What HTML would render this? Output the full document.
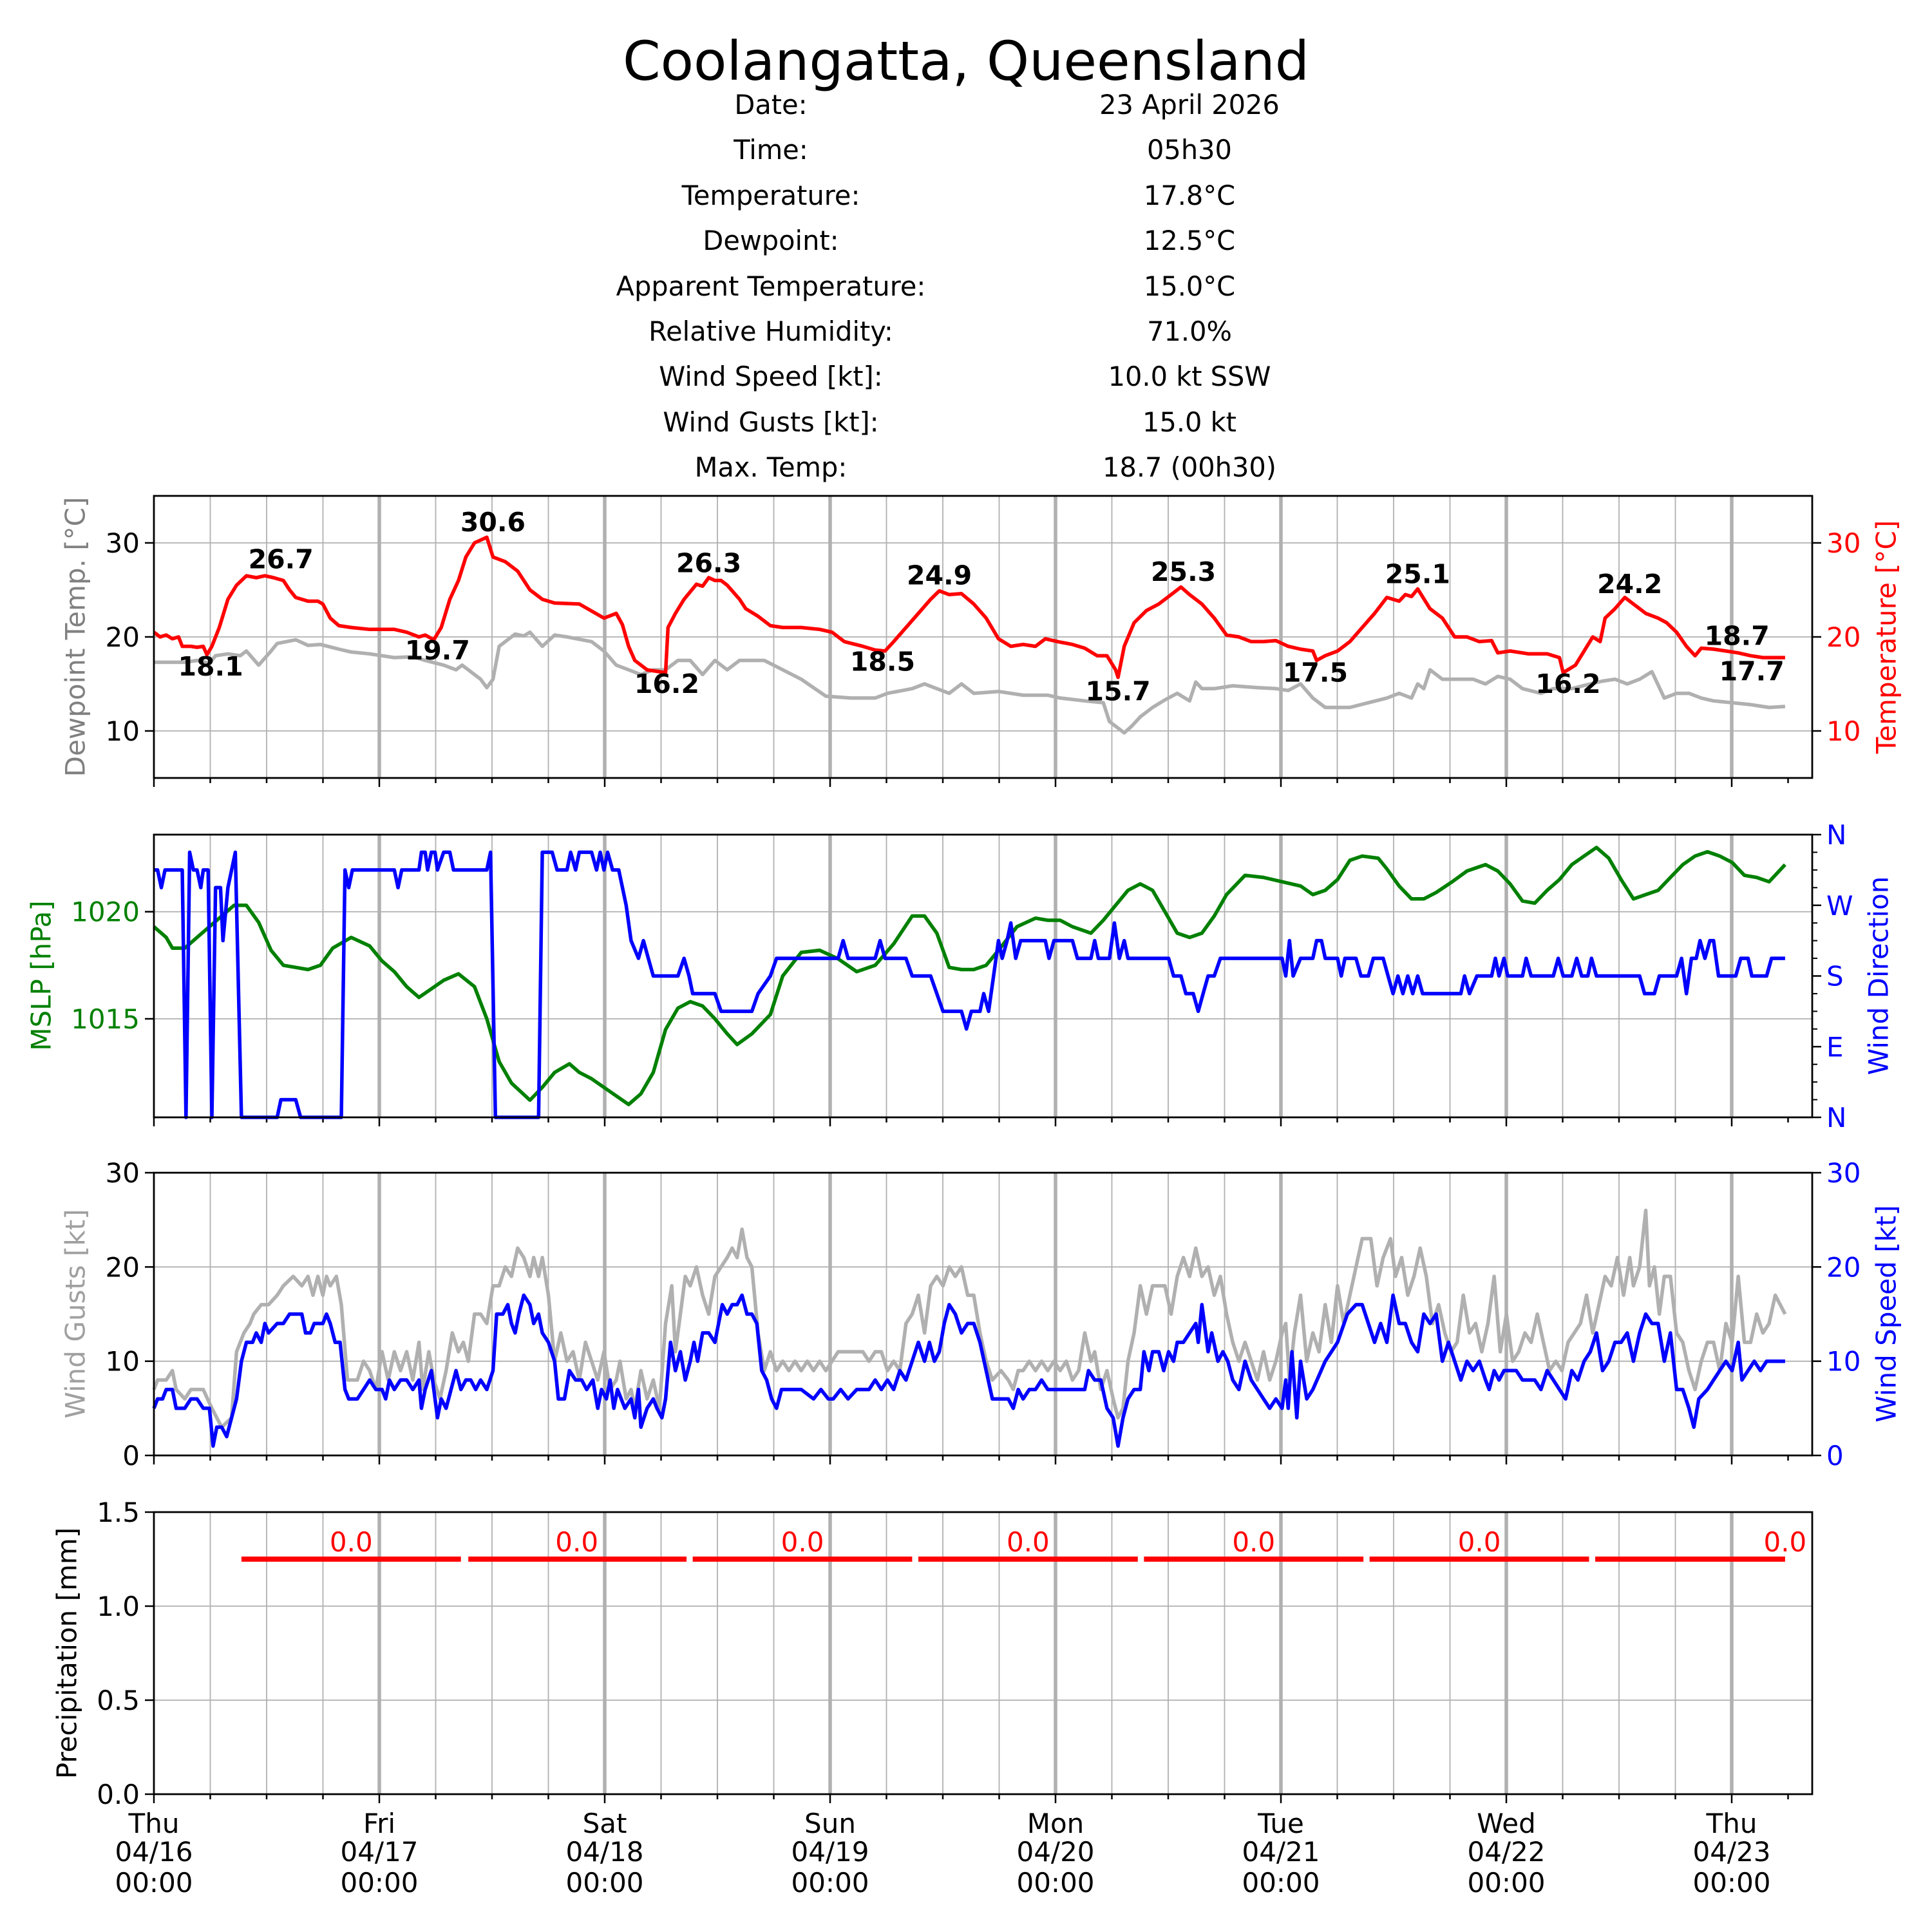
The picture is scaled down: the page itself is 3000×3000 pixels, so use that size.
<!DOCTYPE html>
<html><head><meta charset="utf-8"><style>
html,body{margin:0;padding:0;background:#fff}
svg{display:block}
text{font-family:"DejaVu Sans","Liberation Sans",sans-serif}
</style></head><body>
<svg id="s" width="3000" height="3000" viewBox="0 0 3000 3000" xmlns="http://www.w3.org/2000/svg">
<rect width="3000" height="3000" fill="#fff"/>
<text x="1500" y="124" font-size="84" text-anchor="middle">Coolangatta, Queensland</text>
<g font-size="41.5" text-anchor="middle">
<text x="1197" y="177">Date:</text><text x="1847" y="177">23 April 2026</text>
<text x="1197" y="247">Time:</text><text x="1847" y="247">05h30</text>
<text x="1197" y="318">Temperature:</text><text x="1847" y="318">17.8°C</text>
<text x="1197" y="388">Dewpoint:</text><text x="1847" y="388">12.5°C</text>
<text x="1197" y="459">Apparent Temperature:</text><text x="1847" y="459">15.0°C</text>
<text x="1197" y="529">Relative Humidity:</text><text x="1847" y="529">71.0%</text>
<text x="1197" y="599">Wind Speed [kt]:</text><text x="1847" y="599">10.0 kt SSW</text>
<text x="1197" y="670">Wind Gusts [kt]:</text><text x="1847" y="670">15.0 kt</text>
<text x="1197" y="740">Max. Temp:</text><text x="1847" y="740">18.7 (00h30)</text>
</g>
<g id="g"></g>
</svg>
<script>
var NS="http://www.w3.org/2000/svg",G=document.getElementById('g');
function el(t,a,txt){var e=document.createElementNS(NS,t);for(var k in a)e.setAttribute(k,a[k]);if(txt!==undefined)e.textContent=txt;G.appendChild(e);return e;}
var L=239,R=2814,DAY=350,FS=42,LW=5.5;
function X(dx){return L+(dx-125)*(R-L)/1345;}
var P=[{t:770,b:1208},{t:1296,b:1735},{t:1821,b:2260},{t:2348,b:2786}];
function yl(p,lo,hi,v){return P[p].b-(v-lo)/(hi-lo)*(P[p].b-P[p].t);}
function line(arr,fy,col,w){var s="";for(var i=0;i<arr.length;i+=2){s+=(i?"L":"M")+X(arr[i]).toFixed(1)+" "+fy(arr[i+1]).toFixed(1);}el('path',{d:s,fill:'none',stroke:col,'stroke-width':w,'stroke-linejoin':'round'});}
var ranges=[[5,35,[10,20,30]],[1010.4,1023.6,[1015,1020]],[0,30,[0,10,20,30]],[0,1.5,[0,0.5,1,1.5]]];
for(var p=0;p<4;p++){
  var t=P[p].t,b=P[p].b;
  for(var h=6;h<24*7+6;h+=6){var x=L+h*DAY/24;if(x>=R)break;var maj=h%24==0;
    el('line',{x1:x,x2:x,y1:t,y2:b,stroke:'#b0b0b0','stroke-width':maj?5.5:1.8});}
  var r=ranges[p];
  r[2].forEach(function(v){var y=yl(p,r[0],r[1],v);el('line',{x1:L,x2:R,y1:y,y2:y,stroke:'#b0b0b0','stroke-width':1.8});});
  for(var h=0;h<=24*7+6;h+=6){var x=L+h*DAY/24;if(x>R)break;var maj=h%24==0;el('line',{x1:x,x2:x,y1:b,y2:b+(maj?14:8),stroke:'#000','stroke-width':2.5});}
}
var T=[125,20.5,130,20,135,20.2,140,19.8,145,20,148,19,155,19,160,18.9,165,19,168,18.1,172,19,178,21,185,24,192,25.5,200,26.5,208,26.3,215,26.5,222,26.3,230,26,235,25,240,24.2,250,23.8,258,23.8,262,23.5,268,22,275,21.2,285,21,300,20.8,320,20.8,330,20.5,340,20,345,20.2,352,19.7,358,21,365,24,372,26,378,28.5,385,30,395,30.6,400,28.5,410,28,420,27,430,25,440,24,450,23.6,470,23.5,490,22,500,22.5,505,21.3,510,19,515,17.5,525,16.5,540,16.2,542,21,548,22.5,555,24,565,25.6,570,25.4,575,26.3,580,26,585,26,590,25.5,600,24,605,23,615,22.2,625,21.2,635,21,650,21,665,20.8,675,20.5,685,19.5,700,19,710,18.6,718,18.5,725,19.5,735,21,745,22.5,755,24,762,24.9,770,24.5,780,24.6,790,23.5,800,22,810,19.8,820,19,830,19.2,840,19,848,19.8,858,19.5,870,19.2,880,18.8,890,18,898,18,905,16.5,907,15.7,912,19,920,21.5,930,22.8,940,23.5,950,24.5,958,25.3,965,24.5,975,23.5,985,22,995,20.2,1005,20,1015,19.5,1025,19.5,1035,19.6,1045,19,1055,18.7,1065,18.5,1068,17.5,1075,18,1085,18.5,1095,19.5,1105,21,1115,22.5,1125,24.2,1135,23.8,1140,24.5,1145,24.3,1150,25.1,1160,23,1170,22,1180,20,1190,20,1200,19.5,1210,19.6,1215,18.3,1225,18.5,1240,18.2,1255,18.2,1265,17.8,1268,16.2,1278,17,1285,18.5,1292,20,1298,19.5,1302,22,1310,23,1318,24.2,1325,23.5,1330,23,1335,22.5,1345,22,1352,21.5,1360,20.5,1368,19,1375,18,1380,18.8,1390,18.7,1400,18.5,1410,18.3,1420,18,1430,17.8,1448,17.8];
var D=[125,17.3,150,17.3,160,17.5,170,17.2,175,18,185,18.2,195,18,200,18.5,210,17,220,18.5,225,19.3,240,19.7,250,19.1,260,19.2,275,18.7,285,18.4,300,18.2,320,17.8,335,17.9,345,17.5,360,17,370,16.5,375,17,385,16,390,15.5,395,14.6,400,15.5,405,19,410,19.5,418,20.3,425,20.1,430,20.5,440,19,450,20.2,460,20,480,19.5,490,18.5,500,17,510,16.5,520,16,530,16.5,540,16.5,550,17.5,560,17.5,570,16,580,17.5,590,16.5,600,17.5,620,17.5,635,16.5,650,15.5,670,13.7,690,13.5,710,13.5,720,14,740,14.5,750,15,760,14.5,770,14,780,15,790,14,810,14.2,830,13.8,850,13.8,860,13.5,880,13.2,895,13,900,11,905,10.5,912,9.8,918,10.5,925,11.5,935,12.5,945,13.3,955,14,965,13.2,970,15.2,975,14.5,985,14.5,1000,14.8,1020,14.6,1035,14.5,1045,14.3,1055,15,1065,13.5,1075,12.5,1095,12.5,1110,13,1125,13.5,1135,14,1145,13.5,1150,15,1155,14.5,1160,16.5,1170,15.5,1185,15.5,1195,15.5,1205,15,1215,15.8,1225,15.5,1235,14.5,1250,14,1260,14.5,1275,14.5,1290,15,1300,15.3,1310,15.5,1320,15,1330,15.5,1340,16.3,1350,13.5,1360,14,1370,14,1380,13.5,1390,13.2,1405,13,1420,12.8,1435,12.5,1448,12.6];
var f1=function(v){return yl(0,5,35,v);};
line(D,f1,'#b0b0b0',LW);line(T,f1,'#ff0000',LW);
var ann=[["26.7",228,454],["30.6",400,424],["26.3",575,457],["24.9",762,467],["25.3",960,464],["25.1",1150,466],["24.2",1322,474],["18.7",1409,516],["18.1",171,541],["19.7",355,528],["16.2",541,555],["18.5",716,537],["15.7",907,561],["17.5",1067,546],["16.2",1272,555],["17.7",1421,545]];
ann.forEach(function(a){el('text',{x:X(a[1]),y:a[2]*1.9133+14,'font-size':41,'font-weight':'bold','text-anchor':'middle'},a[0]);});
var M=[125,1019.3,135,1018.8,140,1018.3,150,1018.3,160,1018.8,170,1019.3,180,1019.8,190,1020.3,200,1020.3,210,1019.5,220,1018.2,230,1017.5,240,1017.4,250,1017.3,260,1017.5,270,1018.3,285,1018.8,300,1018.4,310,1017.7,320,1017.2,330,1016.5,340,1016,350,1016.4,360,1016.8,372,1017.1,385,1016.5,395,1015,405,1013,415,1012,430,1011.2,440,1011.8,450,1012.5,462,1012.9,470,1012.5,480,1012.2,495,1011.6,510,1011,520,1011.5,530,1012.5,540,1014.5,550,1015.5,560,1015.8,570,1015.6,580,1015,590,1014.3,598,1013.8,610,1014.3,625,1015.2,635,1017,650,1018.1,665,1018.2,680,1017.8,695,1017.2,710,1017.5,725,1018.5,740,1019.8,750,1019.8,760,1019,770,1017.4,780,1017.3,790,1017.3,800,1017.5,810,1018.2,825,1019.3,840,1019.7,850,1019.6,860,1019.6,870,1019.3,885,1019,895,1019.6,905,1020.3,915,1021,925,1021.3,935,1021,945,1020,955,1019,965,1018.8,975,1019,985,1019.8,995,1020.8,1010,1021.7,1025,1021.6,1040,1021.4,1055,1021.2,1065,1020.8,1075,1021,1085,1021.5,1095,1022.4,1105,1022.6,1118,1022.5,1125,1022,1135,1021.2,1145,1020.6,1155,1020.6,1165,1020.9,1178,1021.4,1190,1021.9,1205,1022.2,1215,1021.9,1225,1021.3,1235,1020.5,1245,1020.4,1255,1021,1265,1021.5,1275,1022.2,1285,1022.6,1295,1023,1305,1022.5,1315,1021.5,1325,1020.6,1335,1020.8,1345,1021,1355,1021.6,1365,1022.2,1375,1022.6,1385,1022.8,1395,1022.6,1405,1022.3,1415,1021.7,1425,1021.6,1435,1021.4,1448,1022.2];
var W=[125,315,128,315,131,292.5,134,315,148,315,151,0,154,337.5,157,315,160,315,163,292.5,165,315,169,315,172,0,175,292.5,179,292.5,181,225,185,292.5,191,337.5,196,0,225,0,228,22.5,240,22.5,244,0,277,0,280,315,283,292.5,286,315,320,315,323,292.5,326,315,340,315,342,337.5,345,337.5,347,315,350,337.5,353,337.5,355,315,360,337.5,365,337.5,368,315,395,315,398,337.5,402,0,437,0,440,337.5,448,337.5,452,315,460,315,463,337.5,467,315,470,337.5,480,337.5,484,315,487,337.5,490,315,493,337.5,497,315,502,315,508,270,512,225,518,202.5,522,225,526,202.5,530,180,550,180,555,202.5,559,180,562,157.5,580,157.5,585,135,610,135,615,157.5,625,180,630,202.5,680,202.5,684,225,688,202.5,710,202.5,714,225,718,202.5,735,202.5,740,180,755,180,760,157.5,765,135,780,135,784,112.5,788,135,795,135,798,157.5,802,135,806,180,810,225,813,202.5,817,225,820,247.5,824,202.5,828,225,848,225,851,202.5,855,225,870,225,874,202.5,885,202.5,888,225,891,202.5,900,202.5,904,247.5,908,202.5,912,225,915,202.5,948,202.5,952,180,958,180,962,157.5,968,157.5,972,135,976,157.5,980,180,985,180,990,202.5,1040,202.5,1043,180,1046,225,1049,180,1055,202.5,1065,202.5,1068,225,1072,225,1075,202.5,1085,202.5,1088,180,1091,202.5,1100,202.5,1104,180,1110,180,1114,202.5,1122,202.5,1126,180,1130,157.5,1134,180,1138,157.5,1142,180,1146,157.5,1150,180,1154,157.5,1185,157.5,1188,180,1192,157.5,1198,180,1210,180,1213,202.5,1216,180,1220,202.5,1223,180,1235,180,1238,202.5,1242,180,1260,180,1264,202.5,1268,180,1275,180,1279,202.5,1283,180,1288,180,1291,202.5,1295,180,1330,180,1334,157.5,1342,157.5,1346,180,1360,180,1364,202.5,1368,157.5,1372,202.5,1376,202.5,1379,225,1383,202.5,1387,225,1390,225,1394,180,1408,180,1412,202.5,1418,202.5,1421,180,1433,180,1437,202.5,1448,202.5];
line(M,function(v){return yl(1,1010.4,1023.6,v);},'#008000',LW);
line(W,function(v){return yl(1,0,360,v);},'#0000ff',LW);
var S=[125,5,128,6,132,6,135,7,140,7,143,5,150,5,155,6,160,6,165,5,170,5,173,1,176,3,180,3,184,2,188,4,192,6,196,10,200,12,205,12,208,13,212,12,215,14,218,13,225,14,230,14,235,15,245,15,248,13,252,13,255,14,262,14,265,15,268,14,272,12,276,12,280,7,283,6,290,6,295,7,300,8,305,7,310,7,313,6,316,8,320,7,325,8,330,8,335,7,340,8,342,5,345,7,350,9,352,7,355,4,358,6,362,5,366,7,370,9,374,7,378,8,382,8,386,7,390,8,395,7,400,9,403,15,408,15,412,16,415,14,418,13,421,15,425,17,430,16,433,14,437,15,440,13,445,12,450,10,453,6,458,6,462,9,467,8,472,8,476,7,481,8,485,5,488,7,492,6,495,8,498,5,501,7,504,6,507,5,512,6,515,4,518,7,520,3,525,5,530,6,533,5,537,4,540,6,544,12,548,9,552,11,556,8,560,10,563,12,566,10,570,13,575,13,580,12,583,14,586,16,590,15,594,16,598,16,602,17,606,15,610,15,614,14,618,9,622,8,626,6,630,5,634,7,640,7,650,7,660,6,666,7,672,6,676,6,682,7,688,6,695,7,705,7,710,8,715,7,720,8,725,7,730,9,735,8,740,10,745,12,750,10,754,12,758,10,762,11,766,14,770,16,775,15,780,13,785,14,790,14,795,12,800,9,805,6,812,6,818,6,822,5,826,7,830,6,835,7,840,7,845,8,850,7,880,7,883,9,888,8,893,8,898,5,903,4,907,1,911,4,915,6,920,7,925,7,928,11,932,9,935,11,940,11,944,9,948,11,952,10,955,12,960,12,965,13,970,14,972,12,975,16,980,11,983,13,988,10,992,11,996,10,1000,8,1005,7,1010,10,1015,8,1020,7,1025,6,1030,5,1035,6,1040,5,1043,8,1045,5,1048,11,1052,4,1055,10,1060,6,1065,7,1075,10,1085,12,1093,15,1100,16,1105,16,1110,14,1115,12,1120,14,1125,12,1130,17,1135,14,1140,14,1145,12,1150,11,1155,15,1160,14,1165,15,1170,10,1175,12,1180,10,1185,8,1190,10,1195,9,1200,10,1205,8,1208,7,1212,9,1216,8,1220,9,1230,9,1235,8,1245,8,1250,7,1255,9,1260,8,1265,7,1270,6,1275,9,1280,8,1285,10,1290,11,1295,13,1300,9,1305,10,1310,12,1315,12,1320,13,1325,10,1330,13,1335,15,1340,14,1345,14,1350,10,1355,13,1360,7,1365,7,1370,5,1374,3,1378,6,1385,7,1390,8,1395,9,1400,10,1405,9,1410,12,1413,8,1418,9,1423,10,1428,9,1433,10,1438,10,1448,10];
var Gu=[125,7,128,8,135,8,140,9,143,7,150,6,155,7,165,7,172,5,180,3,188,4,192,11,198,13,203,14,206,15,212,16,218,16,225,17,230,18,238,19,245,18,250,19,254,17,258,19,262,17,265,19,268,18,273,19,277,16,282,8,290,8,295,10,300,9,305,7,310,11,315,8,320,11,325,9,330,11,335,8,340,12,343,7,348,11,352,8,357,6,362,9,367,13,372,11,376,12,380,10,385,15,390,15,395,14,400,18,405,18,410,20,415,19,420,22,425,21,430,19,433,21,437,19,440,21,445,17,450,10,455,13,460,10,465,11,470,8,475,12,480,10,485,8,490,11,495,7,500,8,503,10,508,6,512,7,515,5,520,9,525,6,530,8,535,5,540,14,545,18,548,11,552,15,556,19,560,18,565,20,570,17,575,15,580,19,585,20,590,21,594,22,598,21,602,24,606,21,610,20,615,13,620,9,625,11,630,9,635,10,640,9,645,10,650,9,655,10,660,9,665,10,670,9,680,11,690,11,700,11,705,10,710,11,715,11,720,9,725,10,730,9,735,14,740,15,745,17,750,13,755,18,760,19,765,18,770,20,775,19,780,20,785,17,790,17,795,13,800,10,805,8,812,9,818,8,822,7,826,9,830,9,835,10,840,9,845,10,850,9,855,10,860,9,865,10,870,8,875,9,880,13,885,10,888,11,893,7,898,9,903,6,907,4,911,5,915,10,920,13,925,18,930,15,935,18,940,18,945,18,950,15,955,19,960,21,965,19,970,22,975,19,980,20,985,17,990,19,995,15,1000,12,1005,10,1010,12,1015,10,1020,8,1025,11,1030,8,1035,10,1040,13,1043,14,1046,8,1050,13,1055,17,1060,10,1065,13,1070,11,1075,16,1080,12,1085,18,1090,14,1095,17,1100,20,1105,23,1112,23,1117,18,1122,21,1128,23,1132,19,1137,21,1142,17,1147,19,1152,22,1157,19,1162,14,1167,16,1172,13,1177,11,1182,12,1187,17,1192,13,1197,14,1202,11,1207,14,1212,19,1217,11,1222,15,1227,10,1232,11,1237,13,1242,12,1247,15,1252,12,1257,9,1262,10,1267,9,1272,12,1277,13,1282,14,1287,17,1292,13,1297,16,1302,19,1307,18,1312,21,1317,17,1322,21,1325,18,1330,20,1335,26,1338,18,1342,20,1346,15,1350,19,1355,19,1360,13,1365,12,1370,9,1375,7,1380,10,1385,12,1390,12,1395,9,1400,14,1405,12,1410,19,1415,12,1420,12,1425,15,1430,13,1435,14,1440,17,1448,15];
var f3=function(v){return yl(2,0,30,v);};
line(Gu,f3,'#b0b0b0',LW);line(S,f3,'#0000ff',LW);
var segs=[[196,374],[380,557],[562,740],[745,923],[928,1106],[1111,1289],[1294,1448]];
var yp=yl(3,0,1.5,1.25);
segs.forEach(function(s){el('line',{x1:X(s[0]),x2:X(s[1]),y1:yp,y2:yp,stroke:'#ff0000','stroke-width':8});});
[285,468,651,834,1017,1200,1448].forEach(function(d){el('text',{x:X(d),y:yp-12,'font-size':FS,fill:'#ff0000','text-anchor':'middle'},'0.0');});
for(var p=0;p<4;p++){el('rect',{x:L,y:P[p].t,width:R-L,height:P[p].b-P[p].t,fill:'none',stroke:'#000','stroke-width':2.8});}
function ytick(p,y,lab,col,side){var x=side?R:L;el('line',{x1:x,x2:side?x+14:x-14,y1:y,y2:y,stroke:'#000','stroke-width':2.5});
 if(lab!==null)el('text',{x:side?x+22:x-22,y:y+15,'font-size':FS,fill:col,'text-anchor':side?'start':'end'},lab);}
[10,20,30].forEach(function(v){ytick(0,f1(v),String(v),'#000',0);ytick(0,f1(v),String(v),'#ff0000',1);});
[1015,1020].forEach(function(v){ytick(1,yl(1,1010.4,1023.6,v),String(v),'#008000',0);});
for(var i=0;i<=16;i++){var y=yl(1,0,360,i*22.5);var lab=i%4==0?['N','E','S','W','N'][i/4]:null;
 if(lab)ytick(1,y,lab,'#0000ff',1);else el('line',{x1:R,x2:R+8,y1:y,y2:y,stroke:'#000','stroke-width':2});}
[0,10,20,30].forEach(function(v){ytick(2,f3(v),String(v),'#000',0);ytick(2,f3(v),String(v),'#0000ff',1);});
[0,0.5,1,1.5].forEach(function(v){ytick(3,yl(3,0,1.5,v),v.toFixed(1),'#000',0);});
function vlab(x,yc,txt,col){el('text',{x:0,y:0,transform:'translate('+x+','+yc+') rotate(-90)','font-size':FS,fill:col,'text-anchor':'middle','dominant-baseline':'central'},txt);}
vlab(117,989,'Dewpoint Temp. [°C]','#808080');vlab(2929,989,'Temperature [°C]','#ff0000');
vlab(64,1515,'MSLP [hPa]','#008000');vlab(2917,1515,'Wind Direction','#0000ff');
vlab(117,2040,'Wind Gusts [kt]','#a0a0a0');vlab(2929,2040,'Wind Speed [kt]','#0000ff');
vlab(104,2567,'Precipitation [mm]','#000');
var days=['Thu','Fri','Sat','Sun','Mon','Tue','Wed','Thu'];
for(var d=0;d<8;d++){var x=L+d*DAY;var dt='04/'+(16+d);
 el('text',{x:x,y:2846,'font-size':FS,'text-anchor':'middle'},days[d]);
 el('text',{x:x,y:2890,'font-size':FS,'text-anchor':'middle'},dt);
 el('text',{x:x,y:2938,'font-size':FS,'text-anchor':'middle'},'00:00');}
</script>
</body></html>
